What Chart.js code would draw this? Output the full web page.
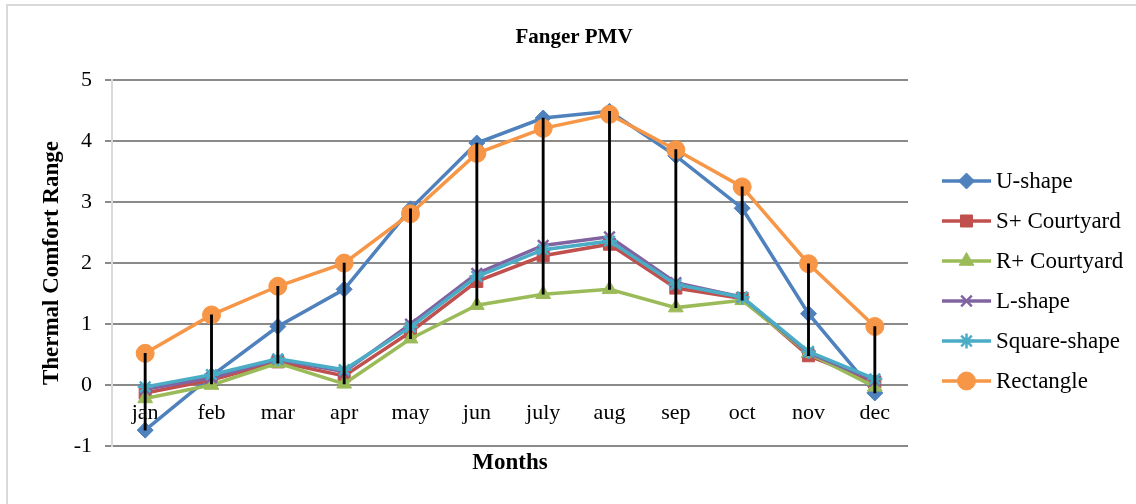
<!DOCTYPE html>
<html>
<head>
<meta charset="utf-8">
<script src="https://cdn.jsdelivr.net/npm/chart.js@4.4.1/dist/chart.umd.min.js"></script>
<style>
  html, body { margin: 0; padding: 0; background: #ffffff; }
  #wrap { position: relative; width: 1136px; height: 504px; overflow: hidden; }
  #frame { position: absolute; left: 6px; top: 4px; width: 1200px; height: 600px;
           border-left: 2px solid #d9d9d9; border-top: 2px solid #d9d9d9; }
  canvas { position: absolute; left: 0; top: 0; }
</style>
</head>
<body>
<div id="wrap">
  <div id="frame"></div>
  <canvas id="c" width="1136" height="504"></canvas>
</div>
<script>
// ---- data ----
const months = ['jan','feb','mar','apr','may','jun','july','aug','sep','oct','nov','dec'];
const uShape      = [-0.74, 0.15, 0.96, 1.57, 2.89, 3.97, 4.38, 4.49, 3.76, 2.90, 1.17, -0.13];
const sCourtyard  = [-0.13, 0.08, 0.38, 0.15, 0.87, 1.70, 2.12, 2.31, 1.59, 1.42, 0.48, 0.05];
const rCourtyard  = [-0.22, 0.00, 0.36, 0.02, 0.76, 1.31, 1.49, 1.57, 1.27, 1.39, 0.52, -0.03];
const lShape      = [-0.07, 0.12, 0.42, 0.22, 1.00, 1.83, 2.29, 2.43, 1.68, 1.44, 0.53, 0.07];
const squareShape = [-0.03, 0.17, 0.43, 0.25, 0.95, 1.78, 2.22, 2.36, 1.65, 1.44, 0.55, 0.10];
const rectangle   = [0.52, 1.15, 1.62, 2.00, 2.81, 3.80, 4.21, 4.44, 3.86, 3.25, 1.99, 0.96];
const seriesNames = ['U-shape', 'S+ Courtyard', 'R+ Courtyard', 'L-shape', 'Square-shape', 'Rectangle'];
const yTicks = [-1, 0, 1, 2, 3, 4, 5];

// ---- styles ----
const allSeries = [uShape, sCourtyard, rCourtyard, lShape, squareShape, rectangle];
const colors = ['#4F81BD', '#C0504D', '#9BBB59', '#8064A2', '#4BACC6', '#F79646'];
const styles = ['rectRot', 'rect', 'triangle', 'crossRot', 'star', 'circle'];
const radii  = [8, 8.5, 8.5, 7.5, 7.5, 9];

// high-low lines derived from the series
const hiLo = months.map((m, i) => {
  const vals = allSeries.map(s => s[i]);
  return [Math.min(...vals), Math.max(...vals)];
});

const SERIF = "'Liberation Serif', 'Times New Roman', serif";

const lineDatasets = allSeries.map((s, k) => ({
  type: 'line',
  label: seriesNames[k],
  data: s,
  borderColor: colors[k],
  backgroundColor: colors[k],
  borderWidth: 3.5,
  pointStyle: styles[k],
  pointRadius: radii[k],
  pointHoverRadius: radii[k],
  pointBackgroundColor: colors[k],
  pointBorderColor: colors[k],
  pointBorderWidth: (styles[k] === 'crossRot' || styles[k] === 'star') ? 2.5 : 1,
  tension: 0,
  order: 6 - k,
  xAxisID: 'x',
  yAxisID: 'y'
}));

const hiLoDataset = {
  type: 'bar',
  label: 'hilo',
  data: hiLo,
  backgroundColor: '#000000',
  borderWidth: 0,
  barThickness: 2.2,
  order: 0,
  xAxisID: 'x',
  yAxisID: 'y'
};

const legendPlugin = {
  id: 'lineLegend',
  afterDraw(chart) {
    const ctx = chart.ctx;
    const x0 = 942, x1 = 991, tx = 996, y0 = 181, dy = 40;
    ctx.save();
    seriesNames.forEach((name, k) => {
      const y = y0 + k * dy;
      ctx.strokeStyle = colors[k];
      ctx.lineWidth = 3.5;
      ctx.beginPath();
      ctx.moveTo(x0, y);
      ctx.lineTo(x1, y);
      ctx.stroke();
      ctx.fillStyle = colors[k];
      ctx.strokeStyle = colors[k];
      ctx.lineWidth = (styles[k] === 'crossRot' || styles[k] === 'star') ? 2.5 : 1;
      Chart.helpers.drawPoint(ctx, {pointStyle: styles[k], radius: radii[k], rotation: 0,
        borderWidth: ctx.lineWidth}, (x0 + x1) / 2, y);
      ctx.fillStyle = '#000000';
      ctx.font = '23px ' + SERIF;
      ctx.textBaseline = 'middle';
      ctx.textAlign = 'left';
      ctx.fillText(name, tx, y + 1);
    });
    ctx.restore();
  }
};

new Chart(document.getElementById('c'), {
  data: {
    labels: months,
    datasets: [hiLoDataset, ...lineDatasets]
  },
  options: {
    responsive: false,
    animation: false,
    events: [],
    layout: { padding: { left: 12, top: 0, right: 0, bottom: 0 } },
    plugins: {
      legend: { display: false },
      tooltip: { enabled: false },
      title: {
        display: true,
        text: 'Fanger PMV',
        color: '#000000',
        font: { family: SERIF, size: 21, weight: 'bold', lineHeight: 1.2 },
        padding: { top: 25, bottom: 30 }
      }
    },
    scales: {
      x: {
        type: 'category',
        position: { y: 0 },
        offset: true,
        grid: { display: false, drawTicks: false, tickLength: 0 },
        border: { display: false },
        ticks: { color: '#000000', font: { family: SERIF, size: 22 }, padding: 15, maxRotation: 0, autoSkip: false }
      },
      x2: {
        type: 'category',
        position: 'bottom',
        labels: months,
        grid: { display: false, drawTicks: false },
        border: { display: false },
        ticks: { display: false },
        title: {
          display: true,
          text: 'Months',
          color: '#000000',
          font: { family: SERIF, size: 23, weight: 'bold', lineHeight: 1.2 },
          padding: { top: 0, bottom: 27 }
        },
        afterFit(scale) { scale.height = 58; }
      },
      y: {
        type: 'linear',
        position: 'left',
        min: yTicks[0],
        max: yTicks[yTicks.length - 1],
        afterBuildTicks(scale) { scale.ticks = yTicks.map(v => ({ value: v })); },
        grid: { color: '#8a8a8a', lineWidth: 2, tickLength: 7, tickColor: '#8a8a8a' },
        border: { display: true, color: '#d9d9d9', width: 2 },
        ticks: { color: '#000000', font: { family: SERIF, size: 22 }, padding: 13 },
        title: {
          display: true,
          text: 'Thermal Comfort Range',
          color: '#000000',
          font: { family: SERIF, size: 23, weight: 'bold', lineHeight: 1.2 },
          padding: { top: 26, bottom: 0 }
        },
        afterFit(scale) { scale.width = 100; }
      },
      yR: {
        type: 'linear',
        position: 'right',
        display: true,
        grid: { display: false, drawTicks: false },
        border: { display: false },
        ticks: { display: false },
        afterFit(scale) { scale.width = 228; }
      }
    }
  },
  plugins: [legendPlugin]
});
</script>
</body>
</html>
